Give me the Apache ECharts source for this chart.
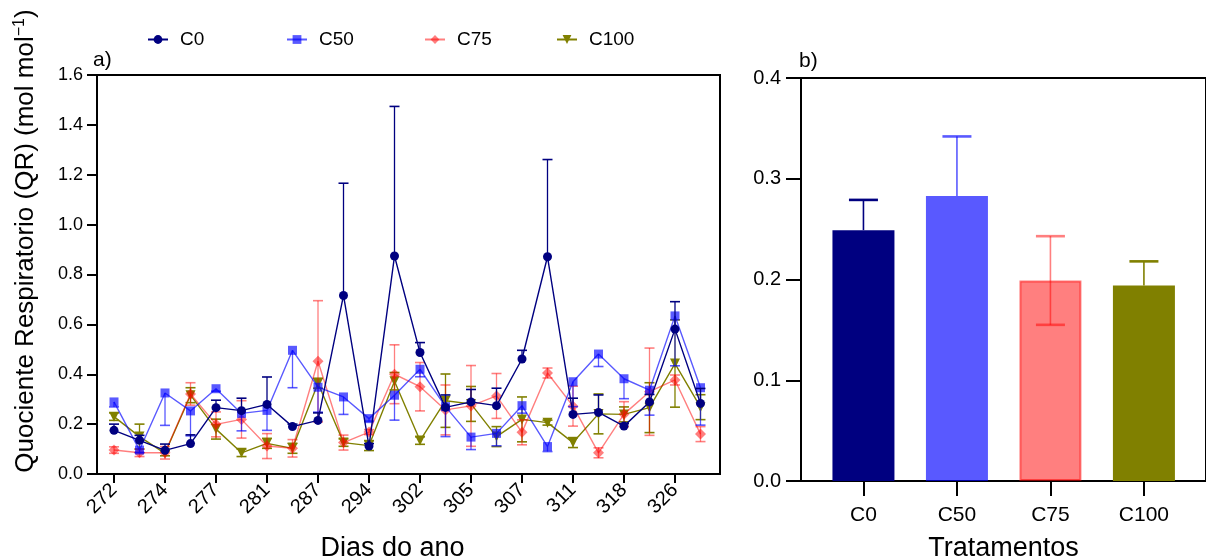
<!DOCTYPE html>
<html>
<head>
<meta charset="utf-8">
<script src="https://cdn.jsdelivr.net/npm/echarts@6/dist/echarts.min.js"></script>
<style>
  html, body { margin: 0; padding: 0; background: #fff; }
  #chart { width: 1206px; height: 559px; }
</style>
</head>
<body>
<div id="chart"></div>
<script>
// Sampling days (day of year); only every other one is labelled on the axis
const days = ['272','273','274','275','277','279','281','284','287','290','294','298',
              '302','304','305','306','307','309','311','314','318','322','326','330'];

// Respiratory quotient per treatment and sampling day, with standard error
const c0     = [0.175,0.135,0.095,0.122,0.266,0.254,0.279,0.190,0.215,0.716,0.112,0.874,
                0.487,0.267,0.289,0.274,0.461,0.871,0.239,0.247,0.192,0.289,0.581,0.283];
const c0Err  = [0.025,0.020,0.025,0.035,0.030,0.050,0.110,0.010,0.030,0.450,0.010,0.600,
                0.040,0.050,0.050,0.070,0.035,0.390,0.065,0.070,0.010,0.030,0.110,0.060];
const c50    = [0.289,0.096,0.325,0.253,0.342,0.243,0.255,0.496,0.348,0.309,0.222,0.316,
                0.420,0.270,0.148,0.163,0.274,0.110,0.370,0.481,0.382,0.336,0.634,0.346];
const c50Err = [0.020,0.010,0.130,0.100,0.010,0.070,0.080,0.150,0.100,0.070,0.010,0.100,
                0.030,0.120,0.050,0.050,0.030,0.020,0.100,0.050,0.080,0.100,0.200,0.150];
const c75    = [0.096,0.085,0.085,0.321,0.199,0.219,0.112,0.103,0.452,0.126,0.168,0.400,
                0.350,0.257,0.273,0.313,0.167,0.405,0.272,0.085,0.240,0.330,0.377,0.160];
const c75Err = [0.013,0.015,0.025,0.045,0.050,0.075,0.050,0.035,0.243,0.030,0.010,0.118,
                0.097,0.100,0.162,0.090,0.050,0.020,0.080,0.020,0.050,0.175,0.020,0.030];
const c100   = [0.230,0.150,0.083,0.316,0.180,0.085,0.123,0.103,0.364,0.126,0.114,0.372,
                0.134,0.294,0.281,0.150,0.219,0.206,0.126,0.241,0.239,0.266,0.443,0.268];
const c100Err= [0.015,0.050,0.010,0.030,0.040,0.015,0.020,0.020,0.020,0.015,0.020,0.035,
                0.015,0.107,0.070,0.040,0.090,0.010,0.020,0.080,0.030,0.100,0.175,0.050];

// Treatment means over the whole period
const treatments = ['C0', 'C50', 'C75', 'C100'];
const treatMean  = [0.249, 0.283, 0.199, 0.194];
const treatErr   = [0.030, 0.059, 0.044, 0.024];

// Axis ticks
const qrTicks = [0, 0.2, 0.4, 0.6, 0.8, 1.0, 1.2, 1.4, 1.6];
const meanTicks = [0, 0.1, 0.2, 0.3, 0.4];

const FONT = "'Liberation Sans', Arial, sans-serif";
const NAVY = '#000080';
const BLUE = 'rgba(0,0,255,0.65)';
const RED = 'rgba(255,0,0,0.5)';
const OLIVE = '#808000';

const chart = echarts.init(document.getElementById('chart'), null, { renderer: 'canvas' });

// Error bar drawer: dir = 'up' | 'down' | 'both'
function errorRenderer(capHalf, lw, capLw, color, dir) {
  return function (params, api) {
    const x = api.value(0), lo = api.value(1), hi = api.value(2);
    const top = api.coord([x, hi]);
    const bot = api.coord([x, lo]);
    const children = [{
      type: 'line',
      shape: { x1: top[0], y1: top[1], x2: bot[0], y2: bot[1] },
      style: { stroke: color, lineWidth: lw }
    }];
    if (dir !== 'down') {
      children.push({ type: 'line',
        shape: { x1: top[0] - capHalf, y1: top[1], x2: top[0] + capHalf, y2: top[1] },
        style: { stroke: color, lineWidth: capLw } });
    }
    if (dir !== 'up') {
      children.push({ type: 'line',
        shape: { x1: bot[0] - capHalf, y1: bot[1], x2: bot[0] + capHalf, y2: bot[1] },
        style: { stroke: color, lineWidth: capLw } });
    }
    return { type: 'group', children };
  };
}

function errData(vals, errs, dir) {
  return vals.map((v, i) => [
    i,
    dir === 'up' ? v : v - errs[i],
    dir === 'down' ? v : v + errs[i]
  ]);
}

const seriesDefs = [
  { name: 'C100', vals: c100, errs: c100Err, color: OLIVE, dir: 'both', symbol: 'triangle', size: 10, rot: 180, z: 3 },
  { name: 'C75',  vals: c75,  errs: c75Err,  color: RED,   dir: 'both', symbol: 'diamond',  size: 11, rot: 0, z: 4 },
  { name: 'C50',  vals: c50,  errs: c50Err,  color: BLUE,  dir: 'down', symbol: 'rect',     size: 9, rot: 0, z: 5 },
  { name: 'C0',   vals: c0,   errs: c0Err,   color: NAVY,  dir: 'up',   symbol: 'circle',   size: 9, rot: 0, z: 6 }
];

const series = [];
seriesDefs.forEach(s => {
  series.push({
    type: 'custom',
    xAxisIndex: 0, yAxisIndex: 0,
    z: s.z,
    silent: true,
    renderItem: errorRenderer(5, 1.3, 1.6, s.color, s.dir),
    encode: { x: 0, y: [1, 2] },
    data: errData(s.vals, s.errs, s.dir)
  });
  series.push({
    name: s.name,
    type: 'line',
    xAxisIndex: 0, yAxisIndex: 0,
    z: s.z,
    symbol: s.symbol,
    symbolSize: s.size,
    symbolRotate: s.rot,
    showAllSymbol: true,
    lineStyle: { color: s.color, width: 1.4 },
    itemStyle: { color: s.color, borderWidth: 0 },
    data: s.vals.map((v, i) => [i, v])
  });
});

// Bars for the treatment means
const barColors = [NAVY, BLUE, RED, OLIVE];
const barDirs = ['up', 'up', 'both', 'up'];
series.push({
  type: 'bar',
  xAxisIndex: 1, yAxisIndex: 1,
  barWidth: 62,
  z: 2,
  data: treatMean.map((v, i) => ({
    value: [i, v],
    itemStyle: {
      color: barColors[i],
      borderColor: i === 2 ? RED : barColors[i],
      borderWidth: i === 2 ? 2 : 0
    }
  }))
});
treatMean.forEach((v, i) => {
  series.push({
    type: 'custom',
    xAxisIndex: 1, yAxisIndex: 1,
    z: 3,
    silent: true,
    renderItem: errorRenderer(14.5, 1.6, 2.6, barColors[i], barDirs[i]),
    encode: { x: 0, y: [1, 2] },
    data: [[i, barDirs[i] === 'up' ? v : v - treatErr[i], v + treatErr[i]]]
  });
});

const legendPos = [147, 286, 424, 556];
const legends = ['C0', 'C50', 'C75', 'C100'].map((n, k) => ({
  left: legendPos[k],
  top: 30,
  padding: 0,
  itemWidth: 20,
  itemHeight: 11,
  selectedMode: false,
  textStyle: { fontFamily: FONT, fontSize: 19, color: '#000', padding: [0, 0, 0, 7] },
  data: [{ name: n }]
}));

const evenIdx = days.map((d, i) => i).filter(i => i % 2 === 0);

const option = {
  backgroundColor: '#fff',
  animation: false,
  legend: legends,
  grid: [
    { left: 97, top: 75, width: 623, height: 399, outerBoundsMode: 'none', containLabel: false,
      show: true, borderColor: '#000', borderWidth: 2, backgroundColor: 'transparent' },
    { left: 801, top: 78, width: 405, height: 403, outerBoundsMode: 'none', containLabel: false,
      show: true, borderColor: '#000', borderWidth: 2, backgroundColor: 'transparent' }
  ],
  xAxis: [
    {
      gridIndex: 0,
      type: 'value',
      min: -0.667,
      max: 23.765,
      name: 'Dias do ano',
      nameLocation: 'middle',
      nameGap: 61,
      nameTextStyle: { fontFamily: FONT, fontSize: 27, color: '#000', padding: [0, 32, 0, 0] },
      axisLine: { show: true, onZero: false, lineStyle: { color: '#000', width: 2 } },
      axisTick: { show: true, length: 9, lineStyle: { color: '#000', width: 2 }, customValues: evenIdx },
      axisLabel: { rotate: 45, margin: 13, fontFamily: FONT, fontSize: 20, color: '#000',
                   customValues: evenIdx,
                   formatter: v => days[Math.round(v)] },
      splitLine: { show: false }
    },
    {
      gridIndex: 1,
      type: 'value',
      min: -0.668,
      max: 3.664,
      name: 'Tratamentos',
      nameLocation: 'middle',
      nameGap: 54,
      nameTextStyle: { fontFamily: FONT, fontSize: 27, color: '#000' },
      axisLine: { show: true, onZero: false, lineStyle: { color: '#000', width: 2 } },
      axisTick: { show: true, length: 15, lineStyle: { color: '#000', width: 2 },
                  customValues: treatments.map((t, i) => i) },
      axisLabel: { margin: 24, fontFamily: FONT, fontSize: 21, color: '#000',
                   customValues: treatments.map((t, i) => i),
                   formatter: v => treatments[Math.round(v)] },
      splitLine: { show: false }
    }
  ],
  yAxis: [
    {
      gridIndex: 0,
      type: 'value',
      min: qrTicks[0],
      max: qrTicks[qrTicks.length - 1],
      interval: 0.2,
      axisLine: { show: true, onZero: false, lineStyle: { color: '#000', width: 2 } },
      axisTick: { show: true, length: 10, lineStyle: { color: '#000', width: 2 } },
      axisLabel: { margin: 14, fontFamily: FONT, fontSize: 18, color: '#000', formatter: v => v.toFixed(1) },
      splitLine: { show: false }
    },
    {
      gridIndex: 1,
      type: 'value',
      min: meanTicks[0],
      max: meanTicks[meanTicks.length - 1],
      interval: 0.1,
      axisLine: { show: true, onZero: false, lineStyle: { color: '#000', width: 2 } },
      axisTick: { show: true, length: 15, lineStyle: { color: '#000', width: 2 } },
      axisLabel: { margin: 20, fontFamily: FONT, fontSize: 20, color: '#000', formatter: v => v.toFixed(1) },
      splitLine: { show: false }
    }
  ],
  graphic: [
    {
      type: 'text',
      x: 26, y: 241,
      rotation: Math.PI / 2,
      style: {
        text: 'Quociente Respiratorio (QR) (mol mol{sup|−1})',
        fontFamily: FONT, fontSize: 26, fill: '#000',
        align: 'center', verticalAlign: 'middle',
        rich: { sup: { fontFamily: FONT, fontSize: 16, fill: '#000', verticalAlign: 'top', padding: [0, 0, 12, 0] } }
      }
    },
    { type: 'text', x: 93, y: 60, style: { text: 'a)', fontFamily: FONT, fontSize: 21, fill: '#000', verticalAlign: 'middle' } },
    { type: 'text', x: 799, y: 61, style: { text: 'b)', fontFamily: FONT, fontSize: 21, fill: '#000', verticalAlign: 'middle' } }
  ],
  series
};

chart.setOption(option);
</script>
</body>
</html>
